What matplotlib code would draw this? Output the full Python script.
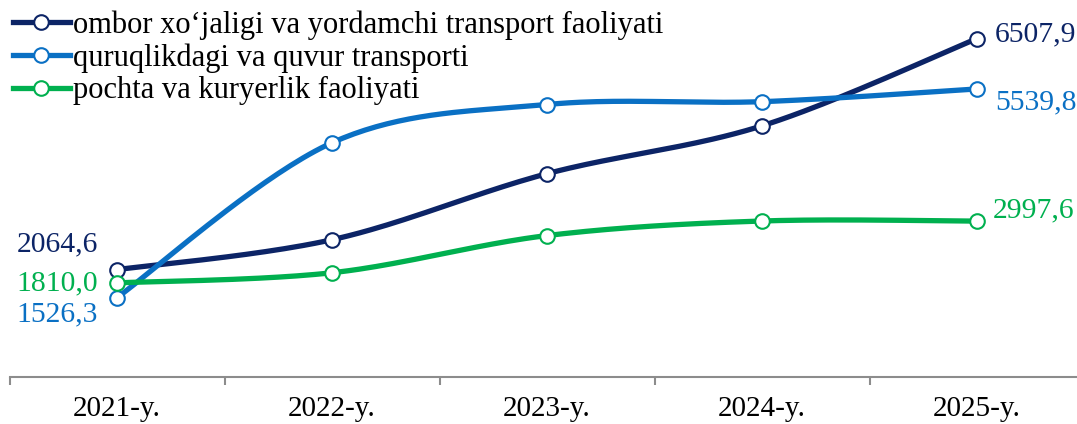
import numpy as np
import matplotlib.pyplot as plt
from matplotlib.lines import Line2D

years = ["2021-y.", "2022-y.", "2023-y.", "2024-y.", "2025-y."]
ombor = [2064.6, 2640.0, 3910.0, 4830.0, 6507.9]
quruqlik = [1526.3, 4505.0, 5240.0, 5295.0, 5539.8]
pochta = [1810.0, 2005.0, 2720.0, 3000.0, 2997.6]

names = [
    "ombor xo\u2018jaligi va yordamchi transport faoliyati",
    "quruqlikdagi va quvur transporti",
    "pochta va kuryerlik faoliyati",
]
colors = ["#0C2466", "#0A70C4", "#00B04F"]

plt.rcParams["font.family"] = ["Liberation Serif", "DejaVu Serif"]


def smooth(x, y, n=40):
    # bezier segments like the office "smoothed line" option
    x = np.asarray(x, float)
    y = np.asarray(y, float)
    px, py = [], []
    for i in range(len(x) - 1):
        x0, y0 = x[i], y[i]
        x3, y3 = x[i + 1], y[i + 1]
        xa, ya = (x[i - 1], y[i - 1]) if i > 0 else (x0, y0)
        xb, yb = (x[i + 2], y[i + 2]) if i + 2 < len(x) else (x3, y3)
        x1, y1 = x0 + (x3 - xa) / 6, y0 + (y3 - ya) / 6
        x2, y2 = x3 - (xb - x0) / 6, y3 - (yb - y0) / 6
        t = np.linspace(0, 1, n)
        px.extend((1 - t) ** 3 * x0 + 3 * (1 - t) ** 2 * t * x1 + 3 * (1 - t) * t ** 2 * x2 + t ** 3 * x3)
        py.extend((1 - t) ** 3 * y0 + 3 * (1 - t) ** 2 * t * y1 + 3 * (1 - t) * t ** 2 * y2 + t ** 3 * y3)
    return px, py


W, H = 1077, 424
fig = plt.figure(figsize=(W / 100, H / 100), dpi=100)
ax = fig.add_axes([9.5 / W, (H - 377) / H, 1075 / W, 377 / H])
ax.patch.set_alpha(0)

x = np.arange(len(years))
series = [ombor, quruqlik, pochta]
for vals, c in zip(series, colors):
    sx, sy = smooth(x, vals)
    ax.plot(sx, sy, color=c, lw=3.8, solid_capstyle="round", zorder=2)
    ax.plot(x, vals, "o", ms=10.5, mfc="white", mec=c, mew=1.5, zorder=3)

ax.set_xlim(-0.5, 4.5)
ax.set_ylim(0, 7250)

for s in ["left", "top", "right"]:
    ax.spines[s].set_visible(False)
ax.spines["bottom"].set_color("#8C8C8C")
ax.spines["bottom"].set_linewidth(1.5)
ax.set_yticks([])
ax.set_xticks(x)
ax.set_xticklabels(years, fontsize=21)
ax.tick_params(axis="x", which="major", length=0, pad=14)
ax.set_xticks(np.arange(-0.5, 5, 1), minor=True)
ax.tick_params(axis="x", which="minor", length=6, width=1.5, color="#8C8C8C", direction="out")

# value labels on first and last points
left_off = [(0, 25), (0, -17), (0, 0)]
right_off = [(18, 4), (18, -13), (16, 11)]
for vals, c, lo, ro in zip(series, colors, left_off, right_off):
    ax.annotate(f"{vals[0]:.1f}".replace(".", ","), (0, vals[0]),
                xytext=(-19 + lo[0], lo[1]), textcoords="offset pixels",
                ha="right", va="center", fontsize=21.3, color=c)
    ax.annotate(f"{vals[-1]:.1f}".replace(".", ","), (4, vals[-1]),
                xytext=ro, textcoords="offset pixels",
                ha="left", va="center", fontsize=21.3, color=c)

handles = [Line2D([], [], color=c, lw=3.8, marker="o", ms=10.5, mfc="white", mec=c, mew=1.5)
           for c in colors]
leg = fig.legend(handles, names, loc="upper left", bbox_to_anchor=(10 / W, 1 - 7 / H),
                 fontsize=22, frameon=False, handlelength=1.85, handletextpad=0.1,
                 labelspacing=0.12, borderaxespad=0, borderpad=0.1, numpoints=1)

fig.savefig("out.png", dpi=100)
